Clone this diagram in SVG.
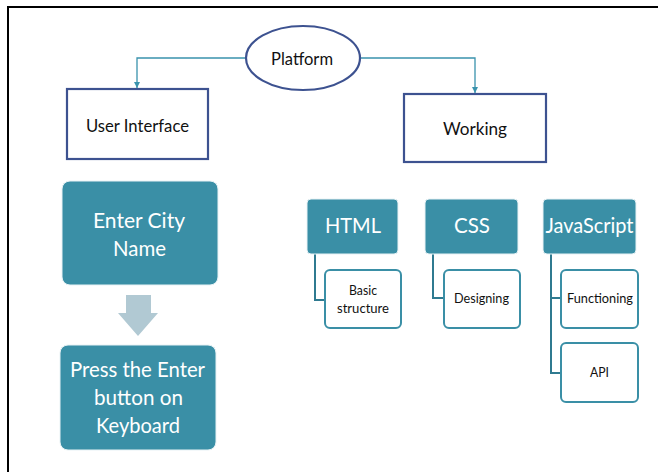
<svg xmlns="http://www.w3.org/2000/svg" width="658" height="472" viewBox="0 0 658 472">
<defs>
<style>
.frame{stroke:#000;stroke-width:2;fill:none}
.ol{fill:#fff;stroke:#3d5290;stroke-width:2.2}
.teal{fill:#3a8fa6;stroke:#e8f2f5;stroke-width:1}
.sub{fill:#fff;stroke:#3a8fa6;stroke-width:2}
.con{fill:none;stroke:#3a93ad;stroke-width:1.3}
.tree{fill:none;stroke:#2f7a90;stroke-width:2}
.t{font-family:Lato,"Open Sans","Liberation Sans",sans-serif;text-anchor:middle}
.dk{fill:#111}
.wt{fill:#fff}
</style>
<marker id="ah" viewBox="0 0 10 10" refX="10" refY="5" markerWidth="6" markerHeight="6" orient="auto" markerUnits="userSpaceOnUse">
<path d="M0,0 L10,5 L0,10 z" fill="#3a93ad"/>
</marker>
</defs>
<path class="frame" d="M8,472 V7 H658"/>
<g id="connectors">
<path class="con" d="M246,58 H137 V88" marker-end="url(#ah)"/>
<path class="con" d="M360,58 H475 V93" marker-end="url(#ah)"/>
<path class="tree" d="M315,253 V300 H325"/>
<path class="tree" d="M433,253 V298 H444"/>
<path class="tree" d="M551,253 V298 H561 M551,298 V373 H561"/>
<path d="M126,295 H151 V313 H158 L138,336 L118,313 H126 Z" fill="#b1c9d3"/>
</g>
<g id="platform">
<ellipse cx="303" cy="58" rx="57" ry="32" class="ol"/>
<text class="t dk" x="302" y="65" font-size="18" textLength="62" lengthAdjust="spacingAndGlyphs">Platform</text>
</g>
<g id="user-interface">
<rect x="67" y="89" width="141" height="70" class="ol"/>
<text class="t dk" x="137.5" y="132" font-size="18" textLength="103" lengthAdjust="spacingAndGlyphs">User Interface</text>
</g>
<g id="working">
<rect x="404" y="94" width="142" height="68" class="ol"/>
<text class="t dk" x="475" y="135" font-size="18" textLength="64" lengthAdjust="spacingAndGlyphs">Working</text>
</g>
<g id="enter-city">
<rect x="62" y="181" width="156" height="104" rx="8" class="teal"/>
<text class="t wt" x="139" y="228" font-size="22" textLength="92" lengthAdjust="spacingAndGlyphs">Enter City</text>
<text class="t wt" x="139.5" y="256" font-size="22" textLength="53" lengthAdjust="spacingAndGlyphs">Name</text>
</g>
<g id="press-enter">
<rect x="60" y="345" width="156" height="105" rx="8" class="teal"/>
<text class="t wt" x="137.5" y="377" font-size="22" textLength="135" lengthAdjust="spacingAndGlyphs">Press the Enter</text>
<text class="t wt" x="138.5" y="405" font-size="22" textLength="89" lengthAdjust="spacingAndGlyphs">button on</text>
<text class="t wt" x="138" y="433" font-size="22" textLength="84" lengthAdjust="spacingAndGlyphs">Keyboard</text>
</g>
<g id="html">
<rect x="307" y="199" width="91" height="55" rx="4" class="teal"/>
<text class="t wt" x="353" y="233" font-size="22" textLength="56" lengthAdjust="spacingAndGlyphs">HTML</text>
</g>
<g id="css">
<rect x="425" y="199" width="93" height="55" rx="4" class="teal"/>
<text class="t wt" x="472" y="233" font-size="22" textLength="36" lengthAdjust="spacingAndGlyphs">CSS</text>
</g>
<g id="javascript">
<rect x="543" y="199" width="93" height="55" rx="4" class="teal"/>
<text class="t wt" x="589.5" y="233" font-size="22" textLength="88" lengthAdjust="spacingAndGlyphs">JavaScript</text>
</g>
<g id="basic-structure">
<rect x="325" y="270" width="76" height="58" rx="5" class="sub"/>
<text class="t dk" x="363" y="295" font-size="13" textLength="28" lengthAdjust="spacingAndGlyphs">Basic</text>
<text class="t dk" x="363" y="313" font-size="13" textLength="52" lengthAdjust="spacingAndGlyphs">structure</text>
</g>
<g id="designing">
<rect x="444" y="270" width="76" height="58" rx="5" class="sub"/>
<text class="t dk" x="481.5" y="303" font-size="13" textLength="55" lengthAdjust="spacingAndGlyphs">Designing</text>
</g>
<g id="functioning">
<rect x="561" y="270" width="77" height="58" rx="5" class="sub"/>
<text class="t dk" x="600" y="303" font-size="13" textLength="66" lengthAdjust="spacingAndGlyphs">Functioning</text>
</g>
<g id="api">
<rect x="561" y="343" width="77" height="59" rx="5" class="sub"/>
<text class="t dk" x="599.5" y="377" font-size="13" textLength="19" lengthAdjust="spacingAndGlyphs">API</text>
</g>
</svg>
